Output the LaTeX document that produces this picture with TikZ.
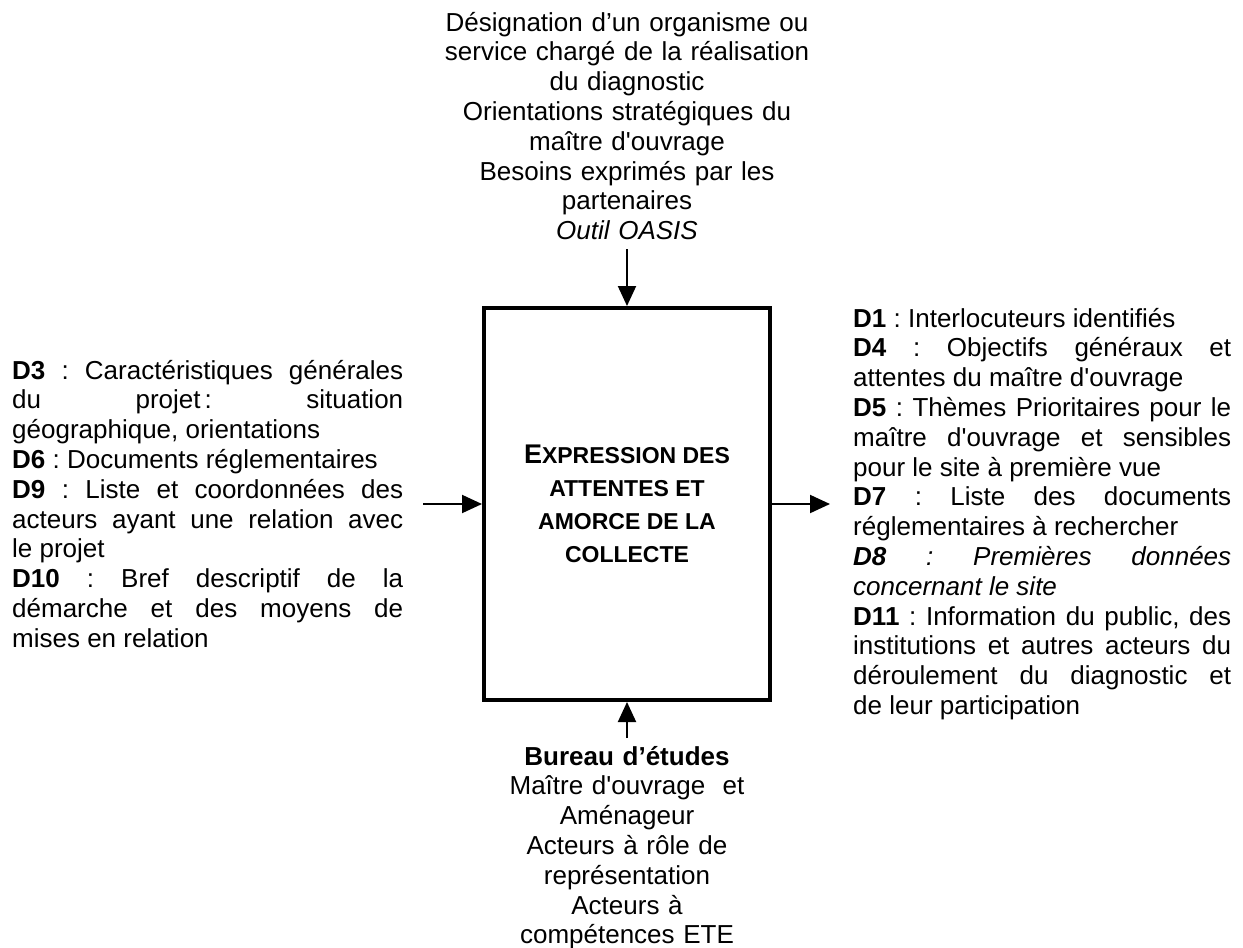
\documentclass[tikz,border=0pt]{standalone}
\usepackage{fontspec}
\setmainfont{Liberation Sans}[Ligatures=TeXOff]
\usetikzlibrary{arrows.meta}
\setlength{\parindent}{0pt}
\frenchspacing
\newcommand\jleft[1]{\noindent\hbox to 391pt{\spaceskip=0pt\xspaceskip=0pt #1}}
\newcommand\jright[1]{\noindent\hbox to 378pt{\spaceskip=0pt\xspaceskip=0pt #1}}
\begin{document}
\begin{tikzpicture}[x=1pt,y=-1pt,
  txt/.style={inner sep=0pt, font=\fontsize{26}{29.8}\selectfont},
  arr/.style={line width=2pt, -{Triangle[length=20pt,width=18pt]}},
  procbox/.style={draw, line width=4pt, minimum width=286pt, minimum height=392pt, inner sep=0pt, align=center}]
\useasboundingbox (0,0) rectangle (1243,948);

\node[procbox, font=\bfseries\fontsize{23}{33}\selectfont] (box) at (627,504)
  {{\fontsize{27}{33}\selectfont E}XPRESSION DES\\ATTENTES ET\\AMORCE DE LA\\COLLECTE};

\node[txt, anchor=north, text width=400pt, align=center] (top) at (627,10) {\strut D\'esignation d’un organisme ou\\
service charg\'e de la r\'ealisation\\
du diagnostic\\
Orientations strat\'egiques du\\
ma\^itre d'ouvrage\\
Besoins exprim\'es par les\\
partenaires\\
\textit{Outil OASIS}};

\node[txt, anchor=north west, text width=391pt, align=flush left] (left) at (12,358) {\strut\jleft{\textbf{D3} : Caract\'eristiques g\'en\'erales}\\
\jleft{du projet\kern4pt: situation}\\
g\'eographique, orientations\\
\textbf{D6} : Documents r\'eglementaires\\
\jleft{\textbf{D9} : Liste et coordonn\'ees des}\\
\jleft{acteurs ayant une relation avec}\\
le projet\\
\jleft{\textbf{D10} : Bref descriptif de la}\\
\jleft{d\'emarche et des moyens de}\\
mises en relation};

\node[txt, anchor=north west, text width=378pt, align=flush left] (right) at (853,306) {\strut\textbf{D1} : Interlocuteurs identifi\'es\\
\jright{\textbf{D4} : Objectifs g\'en\'eraux et}\\
attentes du ma\^itre d'ouvrage\\
\jright{\textbf{D5} : Th\`emes Prioritaires pour le}\\
\jright{ma\^itre d'ouvrage et sensibles}\\
pour le site \`a premi\`ere vue\\
\jright{\textbf{D7} : Liste des documents}\\
r\'eglementaires \`a rechercher\\
\jright{\textit{\textbf{D8} : Premi\`eres donn\'ees}}\\
\textit{concernant le site}\\
\jright{\textbf{D11} : Information du public, des}\\
\jright{institutions et autres acteurs du}\\
\jright{d\'eroulement du diagnostic et}\\
de leur participation};

\node[txt, anchor=north, text width=360pt, align=center] (bottom) at (627,744) {\strut\textbf{Bureau d’\'etudes}\\
Ma\^itre d'ouvrage\ \ et\\
Am\'enageur\\
Acteurs \`a r\^ole de\\
repr\'esentation\\
Acteurs \`a\\
comp\'etences ETE};

\coordinate (tin) at (627,249);
\coordinate (lin) at (423,504);
\coordinate (rout) at (830,504);
\coordinate (bin) at (627,738);

\draw[arr] (tin) -- (box.north);
\draw[arr] (lin) -- (box.west);
\draw[arr] (box.east) -- (rout);
\draw[arr] (bin) -- (box.south);
\end{tikzpicture}
\end{document}
